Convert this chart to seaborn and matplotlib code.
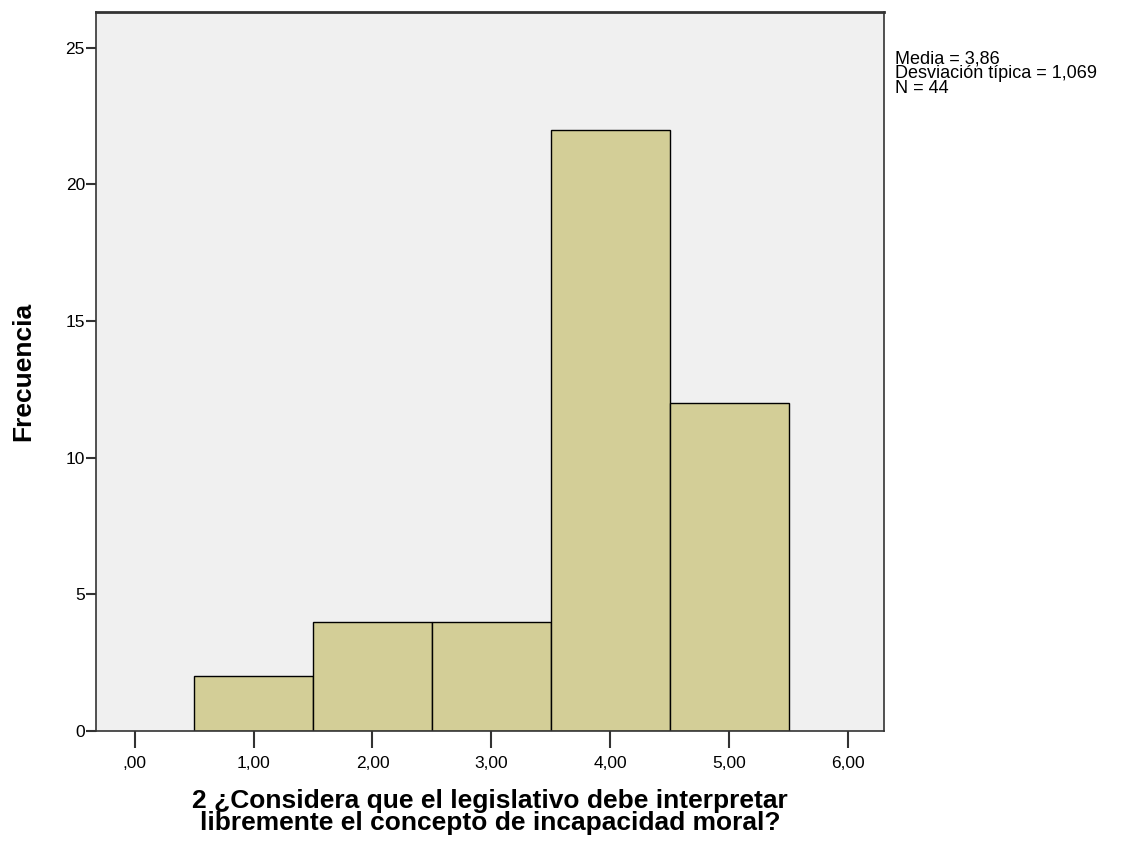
"""SPSS-style histogram of responses to question 2."""

import matplotlib
matplotlib.use("Agg")
import matplotlib.pyplot as plt
import numpy as np
import pandas as pd
import seaborn as sns

# response values and how often each was given
response_values = [1, 2, 3, 4, 5]
response_counts = [2, 4, 4, 22, 12]

x_ticks = [0, 1, 2, 3, 4, 5, 6]
x_tick_labels = [",00", "1,00", "2,00", "3,00", "4,00", "5,00", "6,00"]
y_ticks = [0, 5, 10, 15, 20, 25]

stats_text = "Media = 3,86\nDesviación típica = 1,069\nN = 44"
x_label = "2 ¿Considera que el legislativo debe interpretar\nlibremente el concepto de incapacidad moral?"
y_label = "Frecuencia"

sns.set_theme(style="white")
plt.rcParams["font.family"] = ["Liberation Sans", "DejaVu Sans"]
plt.rcParams["text.color"] = "black"
plt.rcParams["axes.labelcolor"] = "black"
plt.rcParams["xtick.labelcolor"] = "black"
plt.rcParams["ytick.labelcolor"] = "black"

df = pd.DataFrame({"respuesta": np.repeat(response_values, response_counts)})

fig = plt.figure(figsize=(11.33, 8.47), dpi=100)
ax = fig.add_axes([96 / 1133, 1 - 731 / 847, (884 - 96) / 1133, (731 - 12) / 847])
ax.set_facecolor("#f0f0f0")

sns.histplot(
    data=df,
    x="respuesta",
    bins=np.arange(0.5, 6.0, 1.0),
    color="#d3ce97",
    edgecolor="black",
    linewidth=1.0,
    alpha=1.0,
    ax=ax,
)

ax.set_xlim(-0.324, 6.30)
ax.set_ylim(0, 26.3)
ax.set_xticks(x_ticks)
ax.set_xticklabels(x_tick_labels)
ax.set_yticks(y_ticks)
ax.tick_params(axis="x", direction="out", length=12, width=1.5, labelsize=12.5, pad=6, color="#333333")
ax.tick_params(axis="y", direction="out", length=7, width=1.5, labelsize=12.5, pad=1, color="#333333")
ax.tick_params(left=True, bottom=True)

for side in ["top", "right", "left", "bottom"]:
    ax.spines[side].set_visible(True)
    ax.spines[side].set_color("#333333")
    ax.spines[side].set_linewidth(1.2)
ax.spines["top"].set_linewidth(2.0)

ax.set_xlabel(x_label, fontsize=19, fontweight="bold", labelpad=13, linespacing=0.9)
ax.set_ylabel(y_label, fontsize=19, fontweight="bold", labelpad=22)

fig.text(895 / 1133, 1 - 51 / 847, stats_text, fontsize=13, va="top", ha="left", linespacing=0.8)

fig.savefig("out.png", dpi=100)
